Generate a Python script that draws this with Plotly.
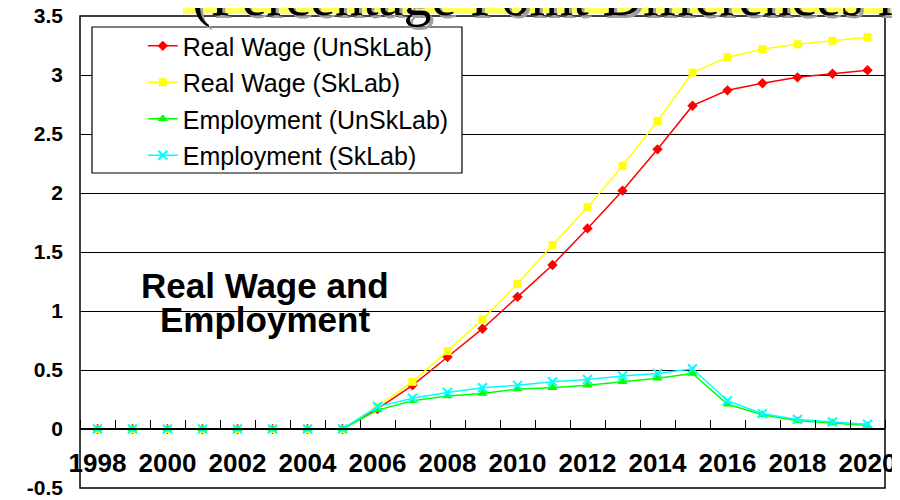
"""Real wage / employment paths (percentage point differences), 1998-2020."""

import plotly.graph_objects as go

_RED = "#FF0000"
_YELLOW = "#FFFF00"
_GREEN = "#00FF00"
_CYAN = "#00FFFF"
_SANS = "Liberation Sans, Arial, sans-serif"
_SERIF = "Liberation Serif, Times New Roman, serif"

years = list(range(1998, 2021))
real_wage_unsk = [0, 0, 0, 0, 0, 0, 0, 0, 0.17, 0.37, 0.61, 0.85, 1.12, 1.39, 1.70,
                  2.02, 2.37, 2.74, 2.87, 2.93, 2.98, 3.01, 3.04]
real_wage_sk = [0, 0, 0, 0, 0, 0, 0, 0, 0.19, 0.40, 0.66, 0.93, 1.23, 1.56, 1.88,
                2.23, 2.61, 3.02, 3.15, 3.22, 3.26, 3.29, 3.32]
employment_unsk = [0, 0, 0, 0, 0, 0, 0, 0, 0.16, 0.24, 0.28, 0.30, 0.34, 0.35, 0.37,
                   0.40, 0.43, 0.47, 0.21, 0.12, 0.07, 0.05, 0.03]
employment_sk = [0, 0, 0, 0, 0, 0, 0, 0, 0.19, 0.26, 0.31, 0.35, 0.37, 0.40, 0.42,
                 0.45, 0.47, 0.51, 0.24, 0.13, 0.08, 0.06, 0.04]

x_tick_years = list(range(1998, 2021, 2))
y_tick_vals = [-0.5, 0, 0.5, 1, 1.5, 2, 2.5, 3, 3.5]
y_tick_text = ["-0.5", "0", "0.5", "1", "1.5", "2", "2.5", "3", "3.5"]

series = [
    ("Real Wage (UnSkLab)", real_wage_unsk, _RED, dict(symbol="diamond", size=8, color=_RED)),
    ("Real Wage (SkLab)", real_wage_sk, _YELLOW, dict(symbol="square", size=8, color=_YELLOW)),
    ("Employment (UnSkLab)", employment_unsk, _GREEN, dict(symbol="triangle-up", size=9, color=_GREEN)),
    ("Employment (SkLab)", employment_sk, _CYAN,
     dict(symbol="x-thin", size=9, color=_CYAN, line=dict(width=2, color=_CYAN))),
]

fig = go.Figure()
for i, (name, vals, col, marker) in enumerate(series):
    fig.add_trace(go.Scatter(
        x=years, y=vals, name=name, mode="lines+markers",
        line=dict(color=col, width=1.5), marker=marker, legendgroup=f"g{i}",
    ))

# title strip at the very top (cut off like the slide)
fig.add_shape(type="rect", xref="paper", yref="paper", x0=0.128, x1=1.05,
              y0=1.004, y1=1.05, line_width=0, fillcolor="#FFFF55", layer="above")
title_txt = "(Percentage Point Differences from Baseline)"
fig.add_annotation(text=title_txt, xref="paper", yref="paper", x=0.137, y=1.0,
                   xanchor="left", yanchor="bottom", showarrow=False, xshift=3, yshift=-17,
                   font=dict(family=_SERIF, size=56, color="#A0A0A0"))
fig.add_annotation(text=title_txt, xref="paper", yref="paper", x=0.137, y=1.0,
                   xanchor="left", yanchor="bottom", showarrow=False, yshift=-14,
                   font=dict(family=_SERIF, size=56, color="black"))

# legend frame
fig.add_shape(type="rect", xref="paper", yref="paper", x0=0.0149, x1=0.4745,
              y0=0.6674, y1=0.9767, line=dict(color="black", width=1.2),
              fillcolor="white", layer="above")

# plot frame
fig.add_shape(type="rect", xref="paper", yref="paper", x0=0, x1=1, y0=0, y1=1,
              line=dict(color="black", width=1.5), layer="above")

fig.add_annotation(text="<b>Real Wage and</b>", xref="paper", yref="paper", x=0.23, y=0.428,
                   xanchor="center", yanchor="middle", showarrow=False,
                   font=dict(family=_SANS, size=35, color="black"))
fig.add_annotation(text="<b>Employment</b>", xref="paper", yref="paper", x=0.23, y=0.358,
                   xanchor="center", yanchor="middle", showarrow=False,
                   font=dict(family=_SANS, size=35, color="black"))

# the page body adds an 8px offset, so margins are shifted to keep the plot in place
fig.update_layout(
    width=900, height=500,
    margin=dict(l=72, r=23, t=8, b=20),
    plot_bgcolor="white", paper_bgcolor="white",
    showlegend=True,
    legend=dict(x=0.078, y=0.985, xanchor="left", yanchor="top",
                bgcolor="rgba(0,0,0,0)", borderwidth=0, tracegroupgap=1,
                font=dict(family=_SANS, size=25, color="black")),
    xaxis=dict(range=[1997.5, 2020.5], anchor="free", position=0.125, automargin=False,
               tickmode="array", tickvals=x_tick_years, ticks="",
               showline=True, linecolor="black", linewidth=1.5, ticklabeloverflow="allow",
               showgrid=False, zeroline=False, ticklabelstandoff=11,
               tickfont=dict(family=_SANS, size=26, color="black", weight="bold"),
               minor=dict(tick0=1997.5, dtick=1, ticks="inside", ticklen=8,
                          tickcolor="black", tickwidth=1.2, showgrid=False)),
    yaxis=dict(range=[-0.5, 3.5], tickmode="array", tickvals=y_tick_vals, automargin=False,
               ticktext=y_tick_text, ticks="", showgrid=True, gridcolor="black",
               gridwidth=1, zeroline=False, showline=False, ticklabelstandoff=16,
               ticklabeloverflow="allow",
               tickfont=dict(family=_SANS, size=21, color="black", weight="bold")),
)

fig.write_html("out.html")
